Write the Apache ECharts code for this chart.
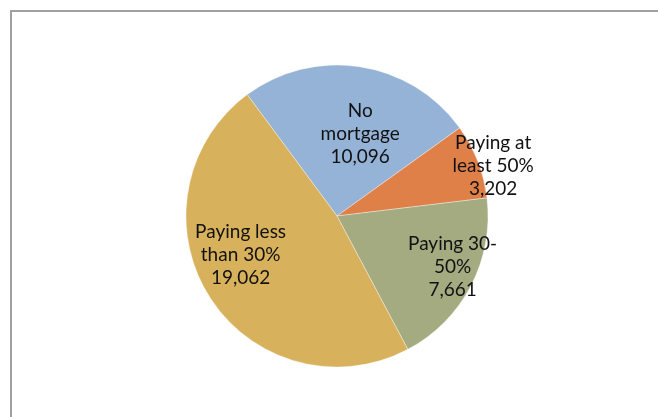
<!DOCTYPE html>
<html>
<head>
<meta charset="utf-8">
<script src="https://cdn.jsdelivr.net/npm/echarts@6/dist/echarts.min.js"></script>
<style>
  html, body { margin: 0; padding: 0; background: #fff; }
  #app { width: 658px; height: 417px; }
</style>
</head>
<body>
<div id="app"></div>
<script>
const categories = ["No\nmortgage", "Paying at\nleast 50%", "Paying 30-\n50%", "Paying less\nthan 30%"];
const values = [10096, 3202, 7661, 19062];
const colors = ["#95b3d6", "#e08049", "#a4ab80", "#d8b15c"];
// nudge labels to where the original sits them
const labelOffsets = [[11, -5], [83, -22], [46, 15], [-30, -3]];

const myChart = echarts.init(document.getElementById("app"));

myChart.setOption({
  animation: false,
  graphic: [
    {
      type: "rect",
      shape: { x: 11, y: 11, width: 700, height: 500 },
      style: { fill: "none", stroke: "#a0a0a0", lineWidth: 2 },
    },
  ],
  series: [
    {
      type: "pie",
      center: [337, 216],
      radius: 151,
      startAngle: 126.5,
      clockwise: true,
      label: {
        position: "inside",
        color: "#111",
        fontFamily: "Lato",
        fontSize: 19,
        lineHeight: 23,
        align: "center",
        formatter: (p) => p.name + "\n" + p.value.toLocaleString("en-US"),
      },
      labelLine: { show: false },
      itemStyle: { borderColor: "rgba(255,255,255,0.5)", borderWidth: 0.7 },
      emphasis: { disabled: true },
      data: categories.map((name, i) => ({
        name,
        value: values[i],
        itemStyle: { color: colors[i] },
        label: { offset: labelOffsets[i] },
      })),
    },
  ],
});
</script>
</body>
</html>
